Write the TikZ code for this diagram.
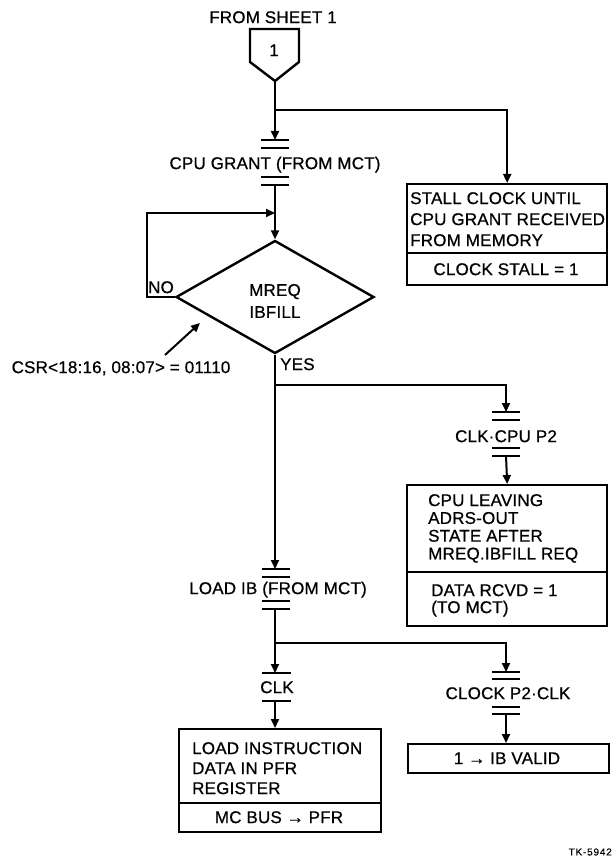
\documentclass[tikz,border=0pt]{standalone}
\usepackage{fontspec}
\setmainfont{Liberation Sans}[FakeBold=0.7,LetterSpace=1.2]
\usetikzlibrary{arrows.meta,shapes.geometric}
\begin{document}
\begin{tikzpicture}[x=1pt,y=-1pt,
  every node/.style={font=\fontsize{17}{20}\selectfont},
  conn/.style={line width=2pt},
  arr/.style={conn,-{Triangle[length=9pt,width=8pt]}},
  bar/.style={line width=2.2pt},
  lbl/.style={inner sep=0pt,text height=12.2pt,text depth=0pt},
  boxst/.style={draw,line width=2.4pt,inner sep=0pt,anchor=north west},
  boxtxt/.style={inner sep=0pt,align=left,anchor=north west},
]
\useasboundingbox (0,0) rectangle (613,861);

% ---- off-page connector
\node[lbl] (fromsheet) at (273,17) {FROM SHEET 1};
\draw[line width=2.4pt,line join=miter] (250,29) -- (299,29) -- (299,62) -- (275,81) -- (250,62) -- cycle;
\node[lbl] (ocnum) at (274,50) {1};
\coordinate (octip) at (275,81);
\coordinate (j1) at (275,110);

% ---- gate 1: CPU GRANT
\coordinate (g1in) at (275,140);
\coordinate (g1out) at (275,185);
\draw[bar] (261,140) -- (289,140) (261,148) -- (289,148);
\draw[bar] (261,177) -- (289,177) (261,185) -- (289,185);
\node[lbl] (g1t) at (275,163) {CPU GRANT (FROM MCT)};

% ---- stall box
\node[boxst,minimum width=200pt,minimum height=101pt] (b1) at (406,183) {};
\draw[line width=2.4pt] (b1.west |- 0,253) -- (b1.east |- 0,253);
\node[boxtxt,font=\fontsize{17}{21}\selectfont] (b1t) at (410,192)
  {STALL CLOCK UNTIL\\CPU GRANT RECEIVED\\FROM MEMORY};
\node[lbl] (b1s) at (506,269) {CLOCK STALL = 1};

% ---- decision
\coordinate (jloop) at (275,213);
\coordinate (loopc) at (147,213);
\node[draw,diamond,line width=2.4pt,minimum width=198pt,minimum height=113pt,
      inner sep=0pt,aspect=1.75] (d) at (275,297) {};
\node[align=center,inner sep=0pt,font=\fontsize{17}{22}\selectfont] (dt) at (275,301) {MREQ\\IBFILL};
\node[lbl] (no) at (161,287) {NO};
\node[lbl] (yes) [anchor=west] at (280,364) {YES};
\node[lbl] (csr) at (121,367) {CSR<18:16, 08:07> = 01110};
\coordinate (csrfrom) at (165,355);
\coordinate (csrto) at (200,323);

% ---- gate 2: CLK.CPU P2
\coordinate (j2) at (275,385);
\coordinate (g2in) at (506,412);
\coordinate (g2out) at (506,456);
\draw[bar] (492,412) -- (520,412) (492,420) -- (520,420);
\draw[bar] (492,448) -- (520,448) (492,456) -- (520,456);
\node[lbl] (g2t) at (506,436) {CLK·CPU P2};

% ---- box 2
\node[boxst,minimum width=200pt,minimum height=141pt] (b2) at (406,484) {};
\draw[line width=2.4pt] (b2.west |- 0,572) -- (b2.east |- 0,572);
\node[boxtxt,font=\fontsize{17}{17.8}\selectfont] (b2t) at (428,494)
  {CPU LEAVING\\ADRS-OUT\\STATE AFTER\\MREQ.IBFILL REQ};
\node[boxtxt,font=\fontsize{17}{17}\selectfont] (b2s) at (431,584)
  {DATA RCVD = 1\\(TO MCT)};

% ---- gate 3: LOAD IB
\coordinate (g3in) at (275,569);
\coordinate (g3out) at (275,609);
\draw[bar] (262,569) -- (290,569) (262,577) -- (290,577);
\draw[bar] (262,601) -- (290,601) (262,609) -- (290,609);
\node[lbl] (g3t) at (278,588) {LOAD IB (FROM MCT)};

% ---- gate 4: CLK
\coordinate (j3) at (275,643);
\coordinate (g4in) at (275,673);
\coordinate (g4out) at (275,701);
\draw[bar] (262,673) -- (291,673);
\draw[bar] (262,701) -- (291,701);
\node[lbl] (g4t) at (277,687) {CLK};

% ---- box 3
\node[boxst,minimum width=202pt,minimum height=103pt] (b3) at (178,728) {};
\draw[line width=2.4pt] (b3.west |- 0,803) -- (b3.east |- 0,803);
\node[boxtxt,font=\fontsize{17}{20}\selectfont] (b3t) at (192,742)
  {LOAD INSTRUCTION\\DATA IN PFR\\REGISTER};
\node[lbl] (b3s) at (279,817) {MC BUS → PFR};

% ---- gate 5: CLOCK P2.CLK
\coordinate (g5in) at (506,672);
\coordinate (g5out) at (506,714);
\draw[bar] (492,672) -- (520,672) (492,679) -- (520,679);
\draw[bar] (492,707) -- (520,707) (492,714) -- (520,714);
\node[lbl] (g5t) at (508,693) {CLOCK P2·CLK};

% ---- box 4
\node[boxst,minimum width=201pt,minimum height=29pt] (b4) at (407,743) {};
\node[lbl] (b4t) at (507,758) {1 → IB VALID};

\node[inner sep=0pt,anchor=east,font=\fontsize{10}{12}\selectfont\addfontfeatures{LetterSpace=8}] (tk) at (612,852) {TK-5942};

% ---- connectors
\draw[conn] (octip) -- (j1);
\draw[arr] (j1) -- (g1in);
\draw[arr] (j1) -| (b1.north);
\draw[conn] (g1out) -- (jloop);
\draw[arr] (jloop) -- (d.north);
\draw[arr] (d.west) -| (loopc) -- (jloop);
\draw[arr] (csrfrom) -- (csrto);
\draw[conn] (d.south) -- (j2);
\draw[arr] (j2) -| (g2in);
\draw[arr] (g2out) -- (b2.north);
\draw[arr] (j2) -- (g3in);
\draw[conn] (g3out) -- (j3);
\draw[arr] (j3) -- (g4in);
\draw[arr] (g4out) -- (g4out |- b3.north);
\draw[arr] (j3) -| (g5in);
\draw[arr] (g5out) -- (g5out |- b4.north);
\end{tikzpicture}
\end{document}
